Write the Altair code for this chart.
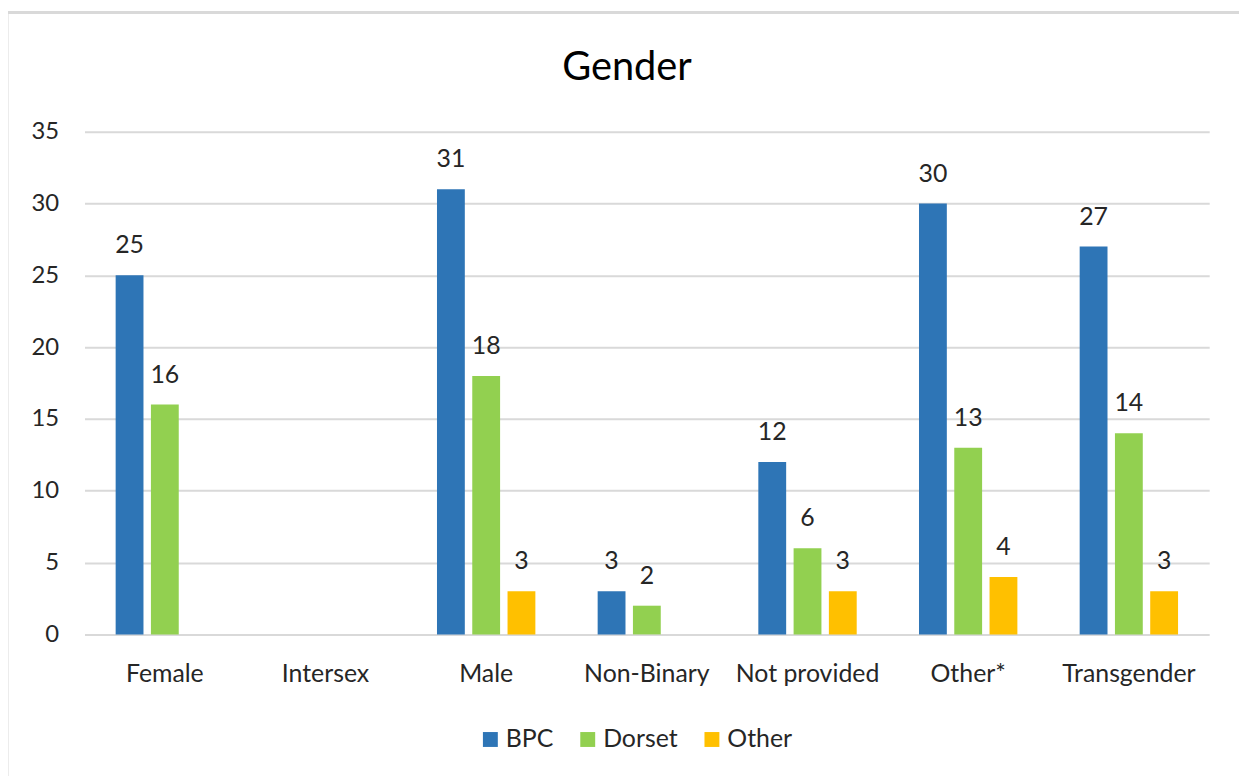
import altair as alt
import pandas as pd

categories = ["Female", "Intersex", "Male", "Non-Binary", "Not provided", "Other*", "Transgender"]
series = ["BPC", "Dorset", "Other"]
bpc = [25, None, 31, 3, 12, 30, 27]
dorset = [16, None, 18, 2, 6, 13, 14]
other = [None, None, 3, None, 3, 4, 3]
colors = ["#2E75B6", "#92D050", "#FFC000"]
y_ticks = [0, 5, 10, 15, 20, 25, 30, 35]
chart_title = "Gender"

rows = []
for s, vals in zip(series, [bpc, dorset, other]):
    for c, v in zip(categories, vals):
        rows.append({"Category": c, "Series": s, "Value": v})
df = pd.DataFrame(rows)

W, H = 1132, 506
FONT = "Lato"
TXT = "#262626"

x_scale = alt.Scale(domain=categories, paddingInner=0, paddingOuter=0)
xoff_scale = alt.Scale(domain=series, paddingInner=0.211, paddingOuter=0.883)

x_enc = alt.X("Category:N", scale=x_scale,
              axis=alt.Axis(title=None, labelAngle=0, domain=False, ticks=False, labelPadding=27,
                            labelFontSize=25, labelColor=TXT, labelFont=FONT))
xoff = alt.XOffset("Series:N", scale=xoff_scale)
y_enc = alt.Y("Value:Q", scale=alt.Scale(domain=[0, 35], nice=False),
              axis=alt.Axis(title=None, values=y_ticks, domain=False, ticks=False, labelPadding=26,
                            grid=True, gridColor="#D9D9D9", gridWidth=2,
                            labelFontSize=24, labelColor=TXT, labelFont=FONT))

bars = alt.Chart(df).transform_filter("datum.Value != null").mark_bar().encode(
    x=x_enc, xOffset=xoff, y=y_enc,
    color=alt.Color("Series:N", scale=alt.Scale(domain=series, range=colors),
                    legend=alt.Legend(title=None, orient="none", direction="horizontal",
                                      legendX=396, legendY=599, padding=0,
                                      symbolType="square", symbolSize=225, symbolStrokeWidth=0,
                                      labelFontSize=25, labelFont=FONT, labelColor=TXT,
                                      labelOffset=3, columnPadding=22)),
)

labels = alt.Chart(df).transform_filter("datum.Value != null").mark_text(
    baseline="alphabetic", dy=-22, fontSize=25, font=FONT, color=TXT
).encode(
    x=alt.X("Category:N", scale=x_scale), xOffset=alt.XOffset("Series:N", scale=xoff_scale),
    y=alt.Y("Value:Q"), text=alt.Text("Value:Q"),
)

border = alt.Chart(pd.DataFrame({"a": [0]})).mark_rect(
    fill="transparent", stroke="#D9D9D9", strokeWidth=3
).encode(x=alt.value(-78), x2=alt.value(W + 200), y=alt.value(-120), y2=alt.value(H + 250))

title = alt.Chart(pd.DataFrame({"t": [chart_title]})).mark_text(
    fontSize=40, font=FONT, color="#000000", baseline="alphabetic", align="center"
).encode(text="t:N", x=alt.value(546), y=alt.value(-52))

chart = alt.layer(border, bars, labels, title).properties(
    width=W, height=H,
    background="white",
    autosize=alt.AutoSizeParams(type="none"),
    padding={"left": 77, "top": 122, "right": 30, "bottom": 140},
).configure_view(stroke="transparent", strokeWidth=0)

chart.save("out.html", embed_options={"renderer": "svg", "actions": False})
